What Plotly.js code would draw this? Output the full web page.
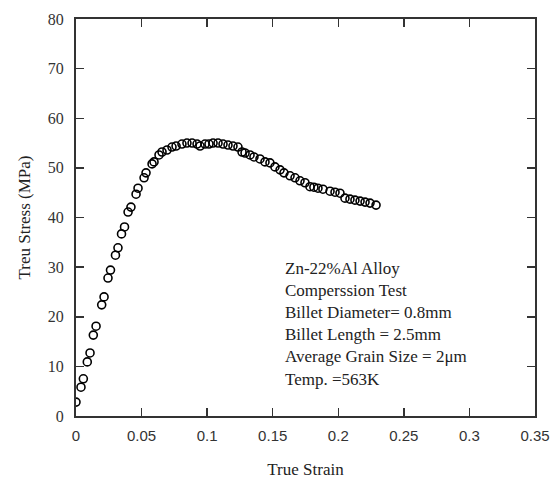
<!DOCTYPE html>
<html>
<head>
<meta charset="utf-8">
<script src="https://cdn.plot.ly/plotly-3.0.1.min.js"></script>
<style>html,body{margin:0;padding:0;background:#fff;}#chart{width:550px;height:481px;}</style>
</head>
<body>
<div id="chart"></div>
<script>
// True strain (x) and true stress in MPa (y)
const strain = [0.0000,0.0038,0.0056,0.0086,0.0107,0.0132,0.0153,0.0196,0.0214,0.0244,
  0.0263,0.0301,0.0320,0.0347,0.0370,0.0397,0.0419,0.0458,0.0473,0.0519,
  0.0534,0.0580,0.0595,0.0633,0.0656,0.0694,0.0732,0.0763,0.0808,0.0846,
  0.0885,0.0923,0.0946,0.0984,0.1014,0.1045,0.1083,0.1121,0.1159,0.1197,
  0.1235,0.1266,0.1289,0.1327,0.1357,0.1403,0.1441,0.1479,0.1517,0.1556,
  0.1586,0.1632,0.1670,0.1708,0.1746,0.1784,0.1814,0.1845,0.1883,0.1937,
  0.1975,0.2013,0.2051,0.2089,0.2127,0.2166,0.2204,0.2242,0.2288];
const stress = [2.8,5.8,7.5,10.9,12.7,16.3,18.1,22.4,24.0,27.8,
  29.4,32.4,33.9,36.7,38.1,41.1,42.1,44.7,45.9,48.0,
  49.0,50.8,51.2,52.6,53.2,53.6,54.2,54.4,54.8,55.0,
  55.0,54.8,54.4,54.8,54.8,55.0,55.0,54.8,54.6,54.4,
  54.2,53.2,53.0,52.6,52.2,51.8,51.2,51.0,50.2,49.6,
  49.0,48.4,48.0,47.4,47.0,46.2,46.1,45.9,45.7,45.3,
  45.1,44.9,43.9,43.7,43.5,43.3,43.1,42.9,42.5];

const xTicks = [0,0.05,0.1,0.15,0.2,0.25,0.3,0.35];
const xTickText = ['0','0.05','0.1','0.15','0.2','0.25','0.3','0.35'];
const yTicks = [0,10,20,30,40,50,60,70,80];

const infoLines = ['Zn-22%Al Alloy','Comperssion Test','Billet Diameter= 0.8mm',
  'Billet Length = 2.5mm','Average Grain Size = 2\u03bcm','Temp. =563K'];

const axisColor = '#333333';
const serif = 'Liberation Serif, Times New Roman, serif';
const sans = 'Liberation Sans, Arial, sans-serif';

const trace = {
  x: strain, y: stress, type: 'scatter', mode: 'markers',
  marker: {symbol: 'circle-open', size: 8, color: '#000', line: {width: 1.6, color: '#000'}},
  hoverinfo: 'skip', showlegend: false
};

const layout = {
  width: 550, height: 481,
  margin: {l: 76, r: 15, t: 19, b: 65},
  paper_bgcolor: '#ffffff', plot_bgcolor: '#ffffff',
  xaxis: {
    range: [0, 0.35], tickvals: xTicks, ticktext: xTickText,
    ticks: 'inside', ticklen: 8, tickwidth: 1.5, tickcolor: axisColor,
    showline: true, linecolor: axisColor, linewidth: 2, mirror: 'ticks',
    showgrid: false, zeroline: false, ticklabelstandoff: 5,
    tickfont: {family: sans, size: 15, color: '#333'},
    title: {text: 'True Strain', font: {family: serif, size: 17, color: '#222'}, standoff: 20}
  },
  yaxis: {
    range: [0, 80], tickvals: yTicks,
    ticks: 'inside', ticklen: 8, tickwidth: 1.5, tickcolor: axisColor,
    showline: true, linecolor: axisColor, linewidth: 2, mirror: 'ticks',
    showgrid: false, zeroline: false, ticklabelstandoff: 7,
    tickfont: {family: serif, size: 16, color: '#333'},
    title: {text: 'Treu Stress (MPa)', font: {family: serif, size: 17, color: '#222'}, standoff: 13}
  },
  annotations: [{
    xref: 'paper', yref: 'paper', x: 0.452, y: 0.40,
    xanchor: 'left', yanchor: 'top', align: 'left', showarrow: false,
    text: infoLines.join('<br>'),
    font: {family: serif, size: 17, color: '#222'}
  }]
};

Plotly.newPlot('chart', [trace], layout, {displayModeBar: false, staticPlot: true});
</script>
</body>
</html>
